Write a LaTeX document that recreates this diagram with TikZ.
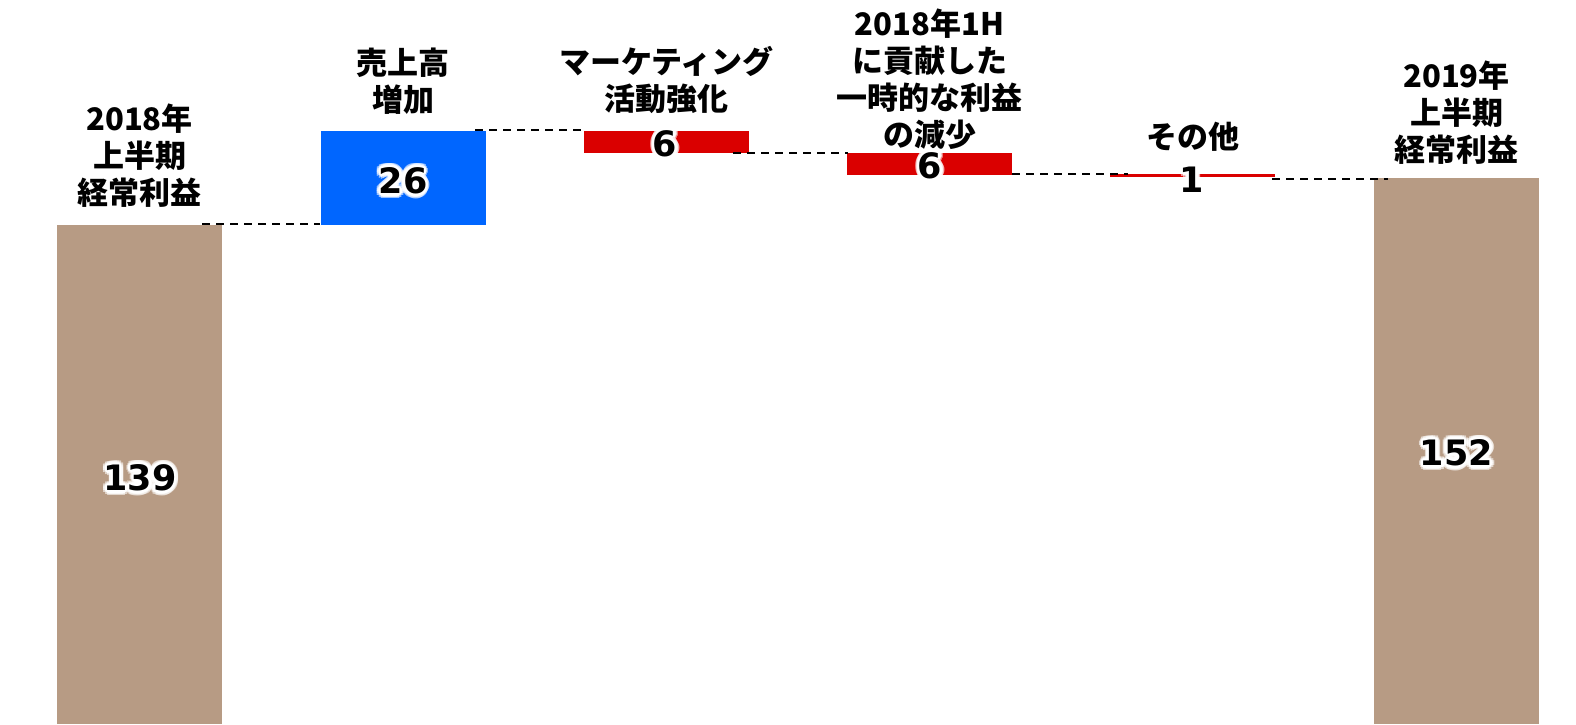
\documentclass[tikz,border=0pt]{standalone}
\usepackage{fontspec}
\newfontfamily\jp{Noto Sans CJK JP}
\newfontfamily\numfont{DejaVu Sans}
\definecolor{barbrown}{HTML}{B79B84}
\definecolor{barblue}{HTML}{0066FF}
\definecolor{barred}{HTML}{DA0000}
\newcommand\halonum[3]{%
  \foreach \a in {0,30,...,330} {
    \node[numtxt,text=white,opacity=0.6] at ([shift={(\a:2.2pt)}]#2) {#3};
    \node[numtxt,text=white] at ([shift={(\a:1.2pt)}]#2) {#3};
  }
  \node[numtxt] (#1) at (#2) {#3};
}
\begin{document}
\begin{tikzpicture}[x=0.5pt,y=-0.5pt,
  lbl/.style={font=\jp\bfseries\fontsize{15.5}{18.5}\selectfont, align=center, inner sep=0},
  numtxt/.style={font=\numfont\bfseries\fontsize{17.5}{20}\selectfont, inner sep=0},
  conn/.style={draw=black, line width=1pt, dash pattern=on 4pt off 3pt}]
\useasboundingbox (0,0) rectangle (1576,724);
% bars
\fill[barbrown] (57,225) rectangle (222,724);
\fill[barblue] (321,131) rectangle (486,225);
\fill[barred] (584,131) rectangle (749,153);
\fill[barred] (847,153) rectangle (1012,175);
\fill[barred] (1110,174) rectangle (1275,177);
\fill[barbrown] (1374,178) rectangle (1539,724);
% connectors
\coordinate (d1a) at (202,224); \coordinate (d1b) at (320,224);
\coordinate (d2a) at (475,130); \coordinate (d2b) at (584,130);
\coordinate (d3a) at (733,153); \coordinate (d3b) at (848,153);
\coordinate (d4a) at (1012,174); \coordinate (d4b) at (1128,174);
\coordinate (d5a) at (1272,179); \coordinate (d5b) at (1388,179);
\draw[conn] (d1a) -- (d1b);
\draw[conn] (d2a) -- (d2b);
\draw[conn] (d3a) -- (d3b);
\draw[conn] (d4a) -- (d4b);
\draw[conn] (d5a) -- (d5b);
% labels
\node[lbl] (l1) at (139.5,156) {2018年\\上半期\\経常利益};
\node[lbl] (l2) at (403,81) {売上高\\増加};
\node[lbl] (l3) at (666.5,80) {マーケティング\\活動強化};
\node[lbl] (l4) at (929.5,79) {2018年1H\\に貢献した\\一時的な利益\\の減少};
\node[lbl] (l5) at (1193,137) {その他};
\node[lbl] (l6) at (1456.5,113) {2019年\\上半期\\経常利益};
% numbers
\coordinate (p1) at (140,478);
\coordinate (p2) at (403,181);
\coordinate (p3) at (665,144);
\coordinate (p4) at (930,166);
\coordinate (p5) at (1192,180);
\coordinate (p6) at (1456.5,453);
\halonum{n1}{p1}{139}
\halonum{n2}{p2}{26}
\halonum{n3}{p3}{6}
\halonum{n4}{p4}{6}
\halonum{n5}{p5}{1}
\halonum{n6}{p6}{152}
\end{tikzpicture}
\end{document}
